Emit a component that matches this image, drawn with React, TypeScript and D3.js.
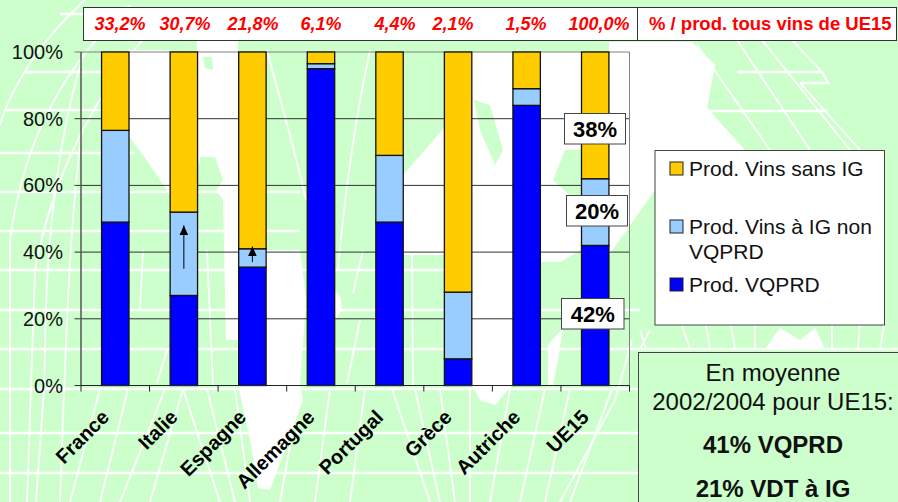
import React from 'react';
import * as d3 from 'd3';

const countries = ['France', 'Italie', 'Espagne', 'Allemagne', 'Portugal', 'Grèce', 'Autriche', 'UE15'];
const vqprd = [49, 27, 35.5, 95, 49, 8, 84, 42];
const igNonVqprd = [27.5, 25, 5.5, 1.5, 20, 20, 5, 20];
const sansIg = [23.5, 48, 59, 3.5, 31, 72, 11, 38];
const shares = ['33,2%', '30,7%', '21,8%', '6,1%', '4,4%', '2,1%', '1,5%', '100,0%'];
const yTicks = [0, 20, 40, 60, 80, 100];

const seriesKeys = ['vqprd', 'ig', 'sans'];
const seriesColors = { vqprd: '#0000ff', ig: '#99ccff', sans: '#ffcc00' };
const legendItems = [
  { key: 'sans', lines: ['Prod. Vins sans IG'] },
  { key: 'ig', lines: ['Prod. Vins à IG non', 'VQPRD'] },
  { key: 'vqprd', lines: ['Prod. VQPRD'] },
];

// map behind the chart, only decoration
const parallels = [
  'M60,14 L270,14', 'M25,72 L130,72', 'M5,110 L130,110', 'M0,153 L135,153', 'M0,192 L300,192',
  'M0,231 L300,231', 'M0,270 L480,270', 'M0,310 L640,310', 'M0,349 L898,349', 'M0,389 L640,389',
  'M0,433 L640,433', 'M0,473 L640,473',
  'M737,72 L822,72 L828,83 L800,83', 'M707,111 L827,111',
];
const meridians = [
  'M85,0 C40,40 10,90 0,125', 'M130,5 C70,60 25,130 10,240 L10,502', 'M170,10 C110,70 55,160 35,270 L27,502',
  'M82,60 C60,130 48,230 46,310 L44,389 L36,502', 'M82,130 C70,220 66,330 60,502',
  'M143,250 L140,310', 'M167,350 L157,383', 'M207,250 L213,385', 'M267,50 C280,100 295,150 306,200',
  'M370,50 C355,120 345,190 338,270', 'M363,250 L353,293', 'M360,320 L347,383', 'M412,250 L413,385',
  'M100,389 L70,502', 'M128,389 L100,502', 'M165,389 L120,502', 'M183,389 L150,502',
  'M183,389 L220,502', 'M207,389 L235,502', 'M235,389 L250,502', 'M300,389 L280,502', 'M330,389 L315,502',
  'M365,389 L350,502', 'M392,389 L430,502', 'M415,389 L440,502', 'M440,389 L455,502', 'M470,389 L470,502',
  'M510,389 L490,502', 'M545,389 L520,502', 'M570,389 L545,502', 'M612,389 L570,502', 'M632,340 L615,400 L560,502',
  'M697,45 L770,150', 'M737,40 L810,150', 'M762,40 L850,150', 'M787,35 L822,72', 'M800,83 L860,150',
  'M680,320 L690,349', 'M705,320 L710,349', 'M730,320 L735,349', 'M755,320 L755,349', 'M832,320 L832,349',
  'M860,320 L858,349', 'M885,320 L880,349',
  'M650,330 L640,349 M640,330 L646,349',
];
const landPaths = [
  'M128,50 L170,50 L170,195 L150,165 L128,135 Z',
  'M197,40 L238,40 L238,340 L226,340 L223,200 L197,160 Z',
  'M238,250 L300,250 L306,300 L300,385 L303,400 L285,450 L270,490 L258,488 L250,440 L238,385 Z',
  'M335,290 L341,298 L342,310 L335,320 Z',
  'M403,175 L444,128 L444,255 L403,255 Z',
  'M472,52 L512,52 L512,385 L495,405 L480,400 L472,385 Z',
  'M541,52 L581,52 L581,250 L560,262 L541,262 Z',
  'M548,385 L548,345 L563,328 L558,360 L553,385 Z',
  'M609,42 L692,42 L715,65 L707,108 L745,150 L655,190 L609,255 Z',
  'M765,349 L780,328 L800,340 L815,328 L825,349 Z',
];
const lakePaths = [
  'M474,100 L490,105 L503,150 L495,165 L480,130 Z',
  'M200,157 L215,157 L223,180 L215,192 L200,190 Z',
  'M203,57 L212,57 L213,70 L205,68 Z',
  'M565,150 L581,150 L581,200 L575,200 L553,180 Z',
];

const margin = { left: 81, right: 629.5, top: 52, bottom: 385.5 };
const x = d3.scaleBand().domain(countries).range([margin.left, margin.right]).paddingInner(0.6).paddingOuter(0.3);
const y = d3.scaleLinear().domain([0, 100]).range([margin.bottom, margin.top]);

const rows = countries.map((c, i) => ({ country: c, vqprd: vqprd[i], ig: igNonVqprd[i], sans: sansIg[i] }));
const stacked = d3.stack().keys(seriesKeys)(rows);
const center = (c: string) => (x(c) as number) + x.bandwidth() / 2;
const step = x.step();

const font = '"Liberation Sans", Arial, sans-serif';
const shareX = [120, 185, 253, 321, 395, 453, 526, 599];

function ValueTag({ left, top, width, text }: { left: number; top: number; width: number; text: string }) {
  return (
    <g>
      <rect x={left} y={top} width={width} height={30.5} fill="#fff" stroke="#444" strokeWidth={1} />
      <text x={left + width / 2} y={top + 23} textAnchor="middle" fontSize={22} fontWeight="bold" fill="#000">{text}</text>
    </g>
  );
}

export default function App() {
  const line = d3.line();
  return (
    <svg width={898} height={502} style={{ position: 'fixed', left: 0, top: 0 }} fontFamily={font}>
      <defs>
        <marker id="head" markerWidth={9} markerHeight={10} refX={4.5} refY={0} orient="0" markerUnits="userSpaceOnUse" viewBox="0 0 9 10">
          <path d="M4.5,0 L9,10 L0,10 Z" fill="#000" />
        </marker>
      </defs>
      <rect width={898} height={502} fill="#ccffcc" />
      {landPaths.map((d, i) => <path key={i} d={d} fill="#fff" />)}
      {lakePaths.map((d, i) => <path key={i} d={d} fill="#ccffcc" />)}
      {parallels.map((d, i) => <path key={i} d={d} fill="none" stroke="#fff" strokeWidth={2.5} />)}
      {meridians.map((d, i) => <path key={i} d={d} fill="none" stroke="#fff" strokeWidth={1.8} />)}

      {/* top share strip */}
      <rect x={83.5} y={7.5} width={813} height={33} fill="#fff" stroke="#333" />
      <line x1={637.5} x2={637.5} y1={7.5} y2={40.5} stroke="#333" />
      {shares.map((s, i) => (
        <text key={s} x={shareX[i]} y={30} textAnchor="middle" fontSize={18} fontWeight="bold" fontStyle="italic" fill="#ff0000">{s}</text>
      ))}
      <text x={649} y={30} fontSize={18.5} fontWeight="bold" fill="#ff0000">% / prod. tous vins de UE15</text>

      {/* grid and axes */}
      {yTicks.map(t => (
        <g key={t}>
          <line x1={74.5} x2={margin.right} y1={y(t)} y2={y(t)} stroke={t === 100 ? '#808080' : '#333'} strokeWidth={1} />
          <text x={63} y={y(t) + 7} textAnchor="end" fontSize={20} fill="#111">{t}%</text>
        </g>
      ))}
      <line x1={margin.right} x2={margin.right} y1={margin.top} y2={margin.bottom} stroke="#808080" />

      {stacked.map(layer => (
        <g key={layer.key} fill={seriesColors[layer.key]} stroke="#111" strokeWidth={1.3}>
          {layer.map(d => (
            <rect key={d.data.country} x={x(d.data.country)} y={y(d[1])} width={x.bandwidth()} height={y(d[0]) - y(d[1])} />
          ))}
        </g>
      ))}

      <line x1={margin.left} x2={margin.left} y1={margin.top} y2={margin.bottom} stroke="#555" strokeWidth={1.5} />
      <line x1={margin.left} x2={margin.right} y1={margin.bottom} y2={margin.bottom} stroke="#222" />
      {d3.range(countries.length + 1).map(i => (
        <line key={i} x1={margin.left + i * step} x2={margin.left + i * step} y1={margin.bottom} y2={margin.bottom + 6} stroke="#222" />
      ))}
      {countries.map(c => (
        <text key={c} transform={`translate(${center(c) - 5},${margin.bottom + 33}) rotate(-45)`} textAnchor="end" fontSize={20} fontWeight="bold" fill="#000">{c}</text>
      ))}

      {/* arrows */}
      <path d={line([[center('Italie'), y(35)], [center('Italie'), y(48)]]) as string} stroke="#000" strokeWidth={1} markerEnd="url(#head)" />
      <path d={line([[center('Espagne'), y(37)], [center('Espagne'), y(41.7)]]) as string} stroke="#000" strokeWidth={1} markerEnd="url(#head)" />

      <ValueTag left={564.5} top={113.5} width={61} text="38%" />
      <ValueTag left={566.5} top={195.5} width={61} text="20%" />
      <ValueTag left={561.5} top={298.5} width={62.5} text="42%" />

      {/* legend */}
      <rect x={655} y={150.5} width={229.5} height={174.5} fill="#fff" stroke="#444" />
      {legendItems.map((item, i) => (
        <g key={item.key}>
          <rect x={670} y={[162, 220, 278][i]} width={13} height={13} fill={seriesColors[item.key]} stroke="#222" />
          {item.lines.map((l, j) => (
            <text key={l} x={689} y={[176, 234, 292][i] + j * 25} fontSize={21} fill="#111">{l}</text>
          ))}
        </g>
      ))}

      {/* note box */}
      <rect x={638.5} y={352.5} width={262} height={152} fill="#ccffcc" stroke="#444" />
      <text x={773} y={381} textAnchor="middle" fontSize={24} fill="#111">En moyenne</text>
      <text x={773} y={410} textAnchor="middle" fontSize={24} fill="#111">2002/2004 pour UE15:</text>
      <text x={773} y={453} textAnchor="middle" fontSize={24} fontWeight="bold" fill="#111">41% VQPRD</text>
      <text x={773} y={497} textAnchor="middle" fontSize={24} fontWeight="bold" fill="#111">21% VDT à IG</text>
    </svg>
  );
}
